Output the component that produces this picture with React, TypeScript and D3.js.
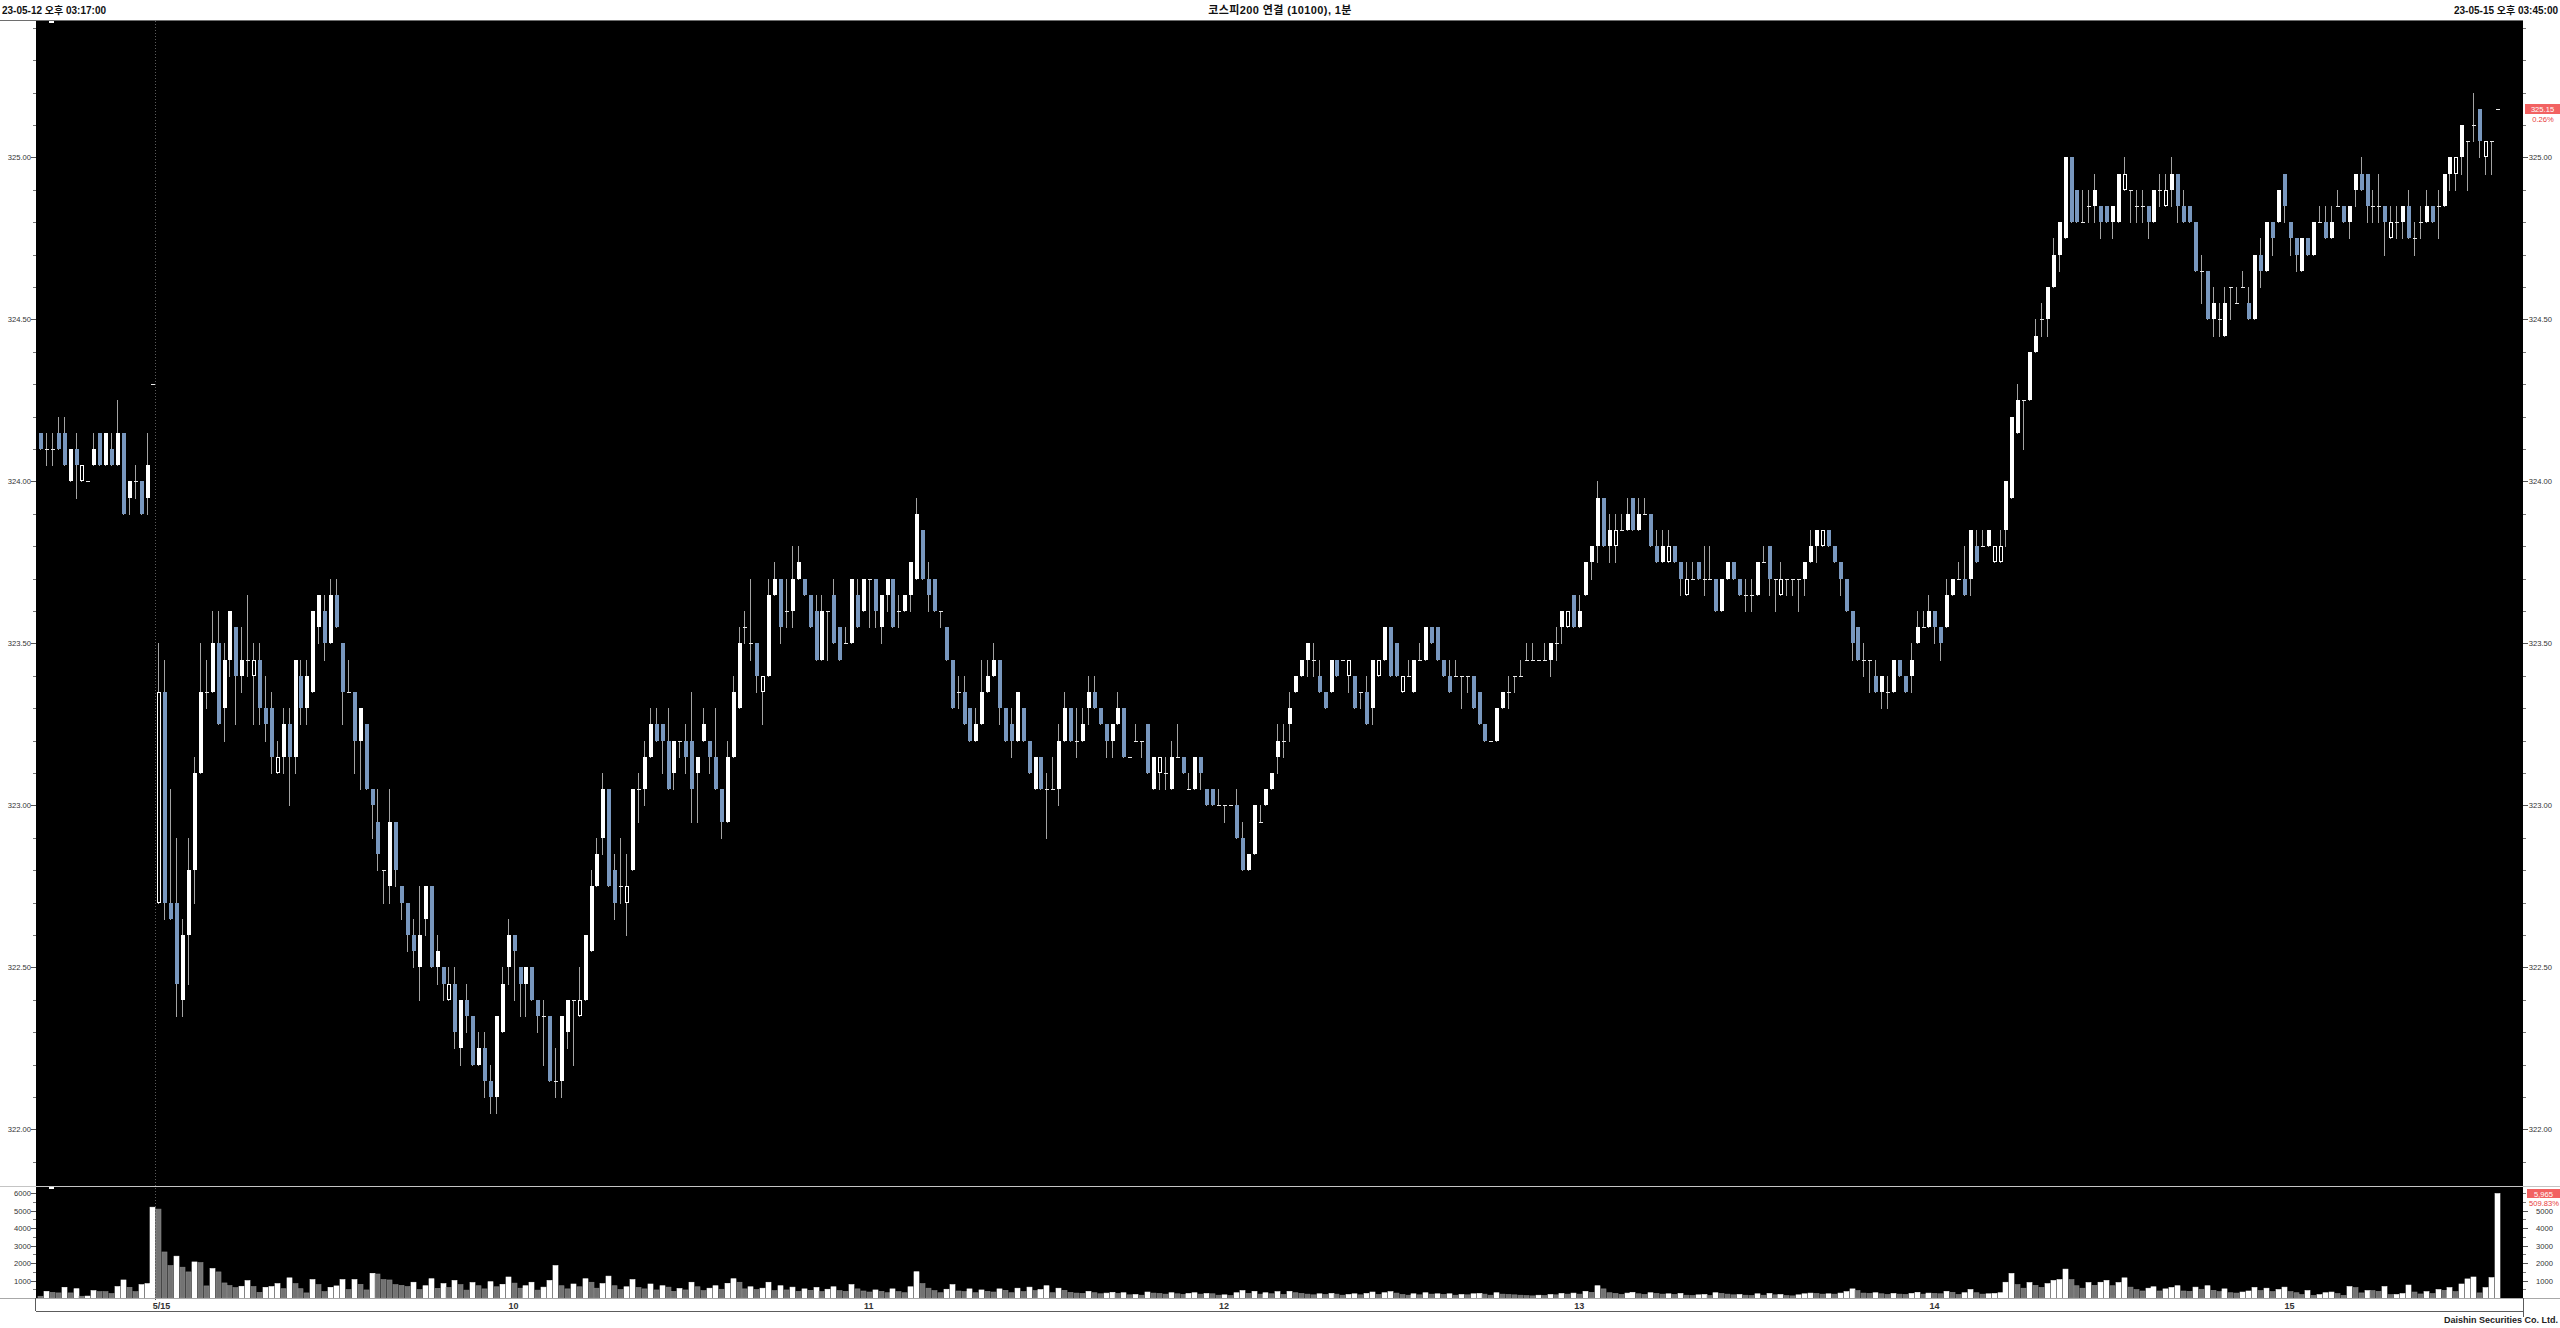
import React from 'react';
import * as d3 from 'd3';

// ---------------- DATA ----------------
// 5/12 tail bars (15:17 .. 15:35, then 15:45 closing auction) : [open, high, low, close]
const may12Bars: number[][] = [
  [324.15, 324.15, 324.10, 324.10], [324.10, 324.15, 324.05, 324.10], [324.10, 324.15, 324.05, 324.10],
  [324.15, 324.20, 324.10, 324.10], [324.15, 324.20, 324.05, 324.05], [324.00, 324.10, 324.00, 324.10],
  [324.10, 324.15, 323.95, 324.05], [324.00, 324.05, 324.00, 324.05], [324.00, 324.00, 324.00, 324.00],
  [324.05, 324.15, 324.05, 324.10], [324.15, 324.15, 324.05, 324.05], [324.05, 324.15, 324.05, 324.15],
  [324.10, 324.15, 324.05, 324.05], [324.05, 324.25, 324.05, 324.15], [324.15, 324.15, 323.90, 323.90],
  [323.95, 324.00, 323.90, 324.00], [324.00, 324.05, 323.95, 324.00], [324.00, 324.00, 323.90, 323.90],
  [323.95, 324.15, 323.90, 324.05], [324.30, 324.30, 324.30, 324.30],
];
const may12Volume: number[] = [100, 380, 320, 290, 610, 290, 530, 100, 110, 420, 360, 360, 250, 650, 1030, 610, 360, 760, 820, 5190];

// 5/15 bars (09:00 .. 15:34, then 15:45 closing auction) : [open, high, low, close]
const may15Bars: number[][] = [
  [322.70,323.50,322.70,323.35],[323.35,323.45,322.65,322.70],[322.70,323.05,322.65,322.65],[322.70,322.90,322.35,322.45],[322.40,322.65,322.35,322.60],
  [322.60,322.90,322.45,322.80],[322.80,323.15,322.70,323.10],[323.10,323.50,323.10,323.35],[323.35,323.45,323.30,323.35],[323.35,323.60,323.35,323.50],
  [323.50,323.60,323.25,323.25],[323.30,323.50,323.20,323.45],[323.45,323.60,323.40,323.60],[323.55,323.55,323.25,323.40],[323.40,323.55,323.35,323.45],
  [323.45,323.65,323.40,323.45],[323.40,323.50,323.25,323.45],[323.45,323.50,323.25,323.30],[323.30,323.40,323.20,323.25],[323.30,323.35,323.10,323.15],
  [323.10,323.20,323.10,323.15],[323.15,323.30,323.10,323.25],[323.25,323.30,323.00,323.15],[323.15,323.45,323.10,323.45],[323.40,323.45,323.25,323.30],
  [323.30,323.45,323.25,323.40],[323.35,323.60,323.35,323.60],[323.55,323.65,323.50,323.65],[323.60,323.65,323.45,323.50],[323.50,323.70,323.50,323.65],
  [323.65,323.70,323.55,323.55],[323.50,323.50,323.25,323.35],[323.35,323.45,323.35,323.35],[323.35,323.35,323.10,323.20],[323.20,323.30,323.05,323.30],
  [323.25,323.25,323.05,323.05],[323.05,323.05,322.90,323.00],[322.95,323.05,322.80,322.85],[322.80,322.80,322.70,322.80],[322.75,323.05,322.70,322.95],
  [322.95,322.95,322.75,322.80],[322.75,322.75,322.65,322.70],[322.70,322.70,322.55,322.60],[322.60,322.65,322.50,322.55],[322.50,322.75,322.40,322.60],
  [322.65,322.75,322.60,322.75],[322.75,322.75,322.50,322.50],[322.50,322.60,322.45,322.55],[322.50,322.50,322.40,322.45],[322.40,322.50,322.40,322.45],
  [322.45,322.50,322.25,322.30],[322.25,322.40,322.20,322.40],[322.40,322.45,322.30,322.35],[322.35,322.35,322.20,322.20],[322.20,322.30,322.20,322.25],
  [322.25,322.30,322.10,322.15],[322.15,322.20,322.05,322.10],[322.10,322.35,322.05,322.35],[322.30,322.50,322.30,322.45],[322.50,322.65,322.45,322.60],
  [322.60,322.60,322.40,322.55],[322.50,322.50,322.35,322.45],[322.45,322.50,322.35,322.50],[322.50,322.50,322.40,322.40],[322.40,322.40,322.30,322.35],
  [322.35,322.40,322.20,322.35],[322.35,322.35,322.15,322.15],[322.15,322.25,322.10,322.15],[322.15,322.35,322.10,322.35],[322.30,322.40,322.25,322.40],
  [322.40,322.40,322.20,322.40],[322.35,322.50,322.35,322.40],[322.40,322.60,322.40,322.60],[322.55,322.80,322.55,322.75],[322.75,322.90,322.75,322.85],
  [322.90,323.10,322.85,323.05],[323.05,323.05,322.75,322.75],[322.80,322.85,322.65,322.70],[322.75,322.90,322.70,322.75],[322.70,322.85,322.60,322.75],
  [322.80,323.05,322.80,323.05],[323.05,323.10,322.95,323.05],[323.05,323.20,323.00,323.15],[323.15,323.30,323.15,323.25],[323.25,323.30,323.20,323.20],
  [323.25,323.25,323.10,323.20],[323.20,323.30,323.05,323.05],[323.10,323.20,323.05,323.20],[323.20,323.20,323.15,323.20],[323.20,323.25,323.10,323.15],
  [323.20,323.35,322.95,323.05],[323.10,323.15,322.95,323.15],[323.20,323.30,323.20,323.25],[323.20,323.20,323.10,323.15],[323.15,323.30,323.05,323.05],
  [323.05,323.05,322.90,322.95],[322.95,323.20,322.95,323.15],[323.15,323.40,323.15,323.35],[323.30,323.55,323.30,323.50],[323.55,323.60,323.50,323.55],
  [323.50,323.70,323.45,323.50],[323.50,323.50,323.35,323.40],[323.35,323.40,323.25,323.40],[323.40,323.70,323.40,323.65],[323.65,323.75,323.65,323.70],
  [323.70,323.70,323.50,323.55],[323.60,323.70,323.55,323.60],[323.60,323.80,323.55,323.70],[323.70,323.80,323.70,323.75],[323.70,323.70,323.65,323.65],
  [323.65,323.65,323.55,323.55],[323.60,323.65,323.45,323.45],[323.45,323.65,323.45,323.60],[323.60,323.60,323.45,323.60],[323.65,323.70,323.50,323.50],
  [323.55,323.55,323.45,323.45],[323.50,323.55,323.50,323.50],[323.50,323.70,323.50,323.70],[323.65,323.70,323.55,323.55],[323.60,323.70,323.60,323.70],
  [323.70,323.70,323.55,323.70],[323.70,323.70,323.55,323.60],[323.55,323.65,323.50,323.65],[323.65,323.70,323.60,323.70],[323.70,323.70,323.55,323.55],
  [323.60,323.65,323.55,323.60],[323.60,323.65,323.60,323.65],[323.65,323.75,323.60,323.75],[323.70,323.95,323.70,323.90],[323.85,323.85,323.70,323.70],
  [323.70,323.75,323.60,323.65],[323.70,323.70,323.60,323.60],[323.60,323.60,323.55,323.60],[323.55,323.55,323.45,323.45],[323.45,323.45,323.30,323.30],
  [323.35,323.40,323.30,323.35],[323.35,323.40,323.25,323.25],[323.30,323.30,323.20,323.20],[323.20,323.30,323.20,323.25],[323.25,323.45,323.25,323.35],
  [323.35,323.45,323.35,323.40],[323.40,323.50,323.40,323.45],[323.45,323.45,323.25,323.30],[323.30,323.30,323.20,323.20],[323.25,323.30,323.15,323.20],
  [323.20,323.35,323.20,323.35],[323.30,323.30,323.20,323.20],[323.20,323.20,323.10,323.10],[323.05,323.15,323.05,323.15],[323.15,323.15,323.05,323.05],
  [323.05,323.10,322.90,323.05],[323.05,323.15,323.05,323.05],[323.05,323.25,323.00,323.20],[323.20,323.35,323.20,323.30],[323.30,323.30,323.20,323.20],
  [323.20,323.30,323.15,323.20],[323.20,323.30,323.20,323.25],[323.30,323.40,323.25,323.35],[323.35,323.40,323.30,323.30],[323.30,323.30,323.25,323.25],
  [323.25,323.25,323.15,323.20],[323.20,323.25,323.15,323.25],[323.25,323.35,323.25,323.30],[323.30,323.30,323.15,323.15],[323.15,323.15,323.15,323.15],
  [323.20,323.25,323.20,323.20],[323.20,323.20,323.15,323.20],[323.25,323.25,323.10,323.10],[323.05,323.15,323.05,323.15],[323.10,323.15,323.05,323.15],
  [323.10,323.15,323.05,323.10],[323.05,323.20,323.05,323.15],[323.15,323.25,323.15,323.15],[323.15,323.15,323.10,323.10],[323.05,323.10,323.05,323.05],
  [323.05,323.15,323.05,323.15],[323.15,323.15,323.05,323.10],[323.05,323.05,323.00,323.00],[323.05,323.05,323.00,323.00],[323.00,323.05,323.00,323.00],
  [323.00,323.00,322.95,323.00],[323.00,323.00,323.00,323.00],[323.00,323.05,322.90,322.90],[322.90,322.95,322.80,322.80],[322.80,322.85,322.80,322.85],
  [322.85,323.00,322.85,323.00],[322.95,323.00,322.95,322.95],[323.00,323.05,323.00,323.05],[323.05,323.10,323.05,323.10],[323.15,323.25,323.10,323.20],
  [323.20,323.25,323.15,323.20],[323.25,323.35,323.20,323.30],[323.35,323.40,323.35,323.40],[323.40,323.45,323.40,323.45],[323.45,323.50,323.40,323.50],
  [323.45,323.50,323.40,323.45],[323.40,323.45,323.35,323.35],[323.35,323.35,323.30,323.30],[323.35,323.45,323.35,323.45],[323.45,323.45,323.40,323.40],
  [323.45,323.45,323.45,323.45],[323.40,323.45,323.35,323.45],[323.40,323.40,323.30,323.30],[323.35,323.35,323.30,323.35],[323.35,323.40,323.25,323.25],
  [323.30,323.45,323.25,323.45],[323.40,323.45,323.40,323.45],[323.45,323.55,323.45,323.55],[323.55,323.55,323.40,323.40],[323.50,323.50,323.40,323.40],
  [323.35,323.40,323.35,323.40],[323.40,323.45,323.40,323.40],[323.35,323.45,323.35,323.45],[323.45,323.50,323.45,323.45],[323.45,323.55,323.45,323.55],
  [323.55,323.55,323.50,323.50],[323.55,323.55,323.45,323.45],[323.45,323.45,323.40,323.40],[323.40,323.45,323.35,323.35],[323.40,323.45,323.40,323.40],
  [323.40,323.40,323.30,323.40],[323.40,323.40,323.35,323.40],[323.40,323.40,323.30,323.30],[323.35,323.35,323.25,323.25],[323.25,323.25,323.20,323.20],
  [323.20,323.20,323.20,323.20],[323.20,323.30,323.20,323.30],[323.30,323.35,323.30,323.35],[323.35,323.40,323.30,323.35],[323.40,323.40,323.35,323.40],
  [323.40,323.45,323.40,323.40],[323.45,323.50,323.45,323.45],[323.45,323.50,323.45,323.45],[323.45,323.45,323.45,323.45],[323.45,323.50,323.45,323.45],
  [323.45,323.50,323.40,323.50],[323.50,323.55,323.45,323.50],[323.55,323.60,323.50,323.60],[323.55,323.60,323.55,323.60],[323.65,323.65,323.55,323.55],
  [323.55,323.65,323.55,323.60],[323.65,323.75,323.65,323.75],[323.75,323.80,323.70,323.80],[323.80,324.00,323.75,323.95],[323.95,323.95,323.80,323.80],
  [323.80,323.90,323.75,323.85],[323.80,323.90,323.75,323.85],[323.85,323.90,323.85,323.85],[323.85,323.95,323.85,323.90],[323.95,323.95,323.85,323.85],
  [323.85,323.95,323.85,323.90],[323.90,323.95,323.90,323.90],[323.90,323.90,323.80,323.80],[323.80,323.85,323.75,323.75],[323.75,323.85,323.75,323.80],
  [323.75,323.85,323.75,323.80],[323.80,323.80,323.75,323.75],[323.75,323.75,323.65,323.70],[323.65,323.75,323.65,323.70],[323.70,323.75,323.70,323.70],
  [323.75,323.75,323.70,323.70],[323.70,323.80,323.65,323.70],[323.70,323.80,323.70,323.70],[323.70,323.70,323.60,323.60],[323.60,323.70,323.60,323.70],
  [323.70,323.75,323.70,323.75],[323.75,323.75,323.70,323.70],[323.70,323.70,323.65,323.65],[323.65,323.70,323.60,323.65],[323.65,323.70,323.60,323.65],
  [323.65,323.75,323.65,323.75],[323.75,323.80,323.75,323.75],[323.80,323.80,323.65,323.70],[323.70,323.70,323.60,323.70],[323.65,323.75,323.65,323.70],
  [323.70,323.70,323.65,323.70],[323.70,323.70,323.65,323.70],[323.70,323.70,323.60,323.70],[323.70,323.75,323.65,323.75],[323.75,323.85,323.75,323.80],
  [323.80,323.85,323.75,323.85],[323.80,323.85,323.80,323.85],[323.85,323.85,323.80,323.80],[323.80,323.80,323.75,323.75],[323.75,323.75,323.65,323.70],
  [323.70,323.70,323.60,323.60],[323.60,323.60,323.45,323.50],[323.55,323.55,323.45,323.45],[323.45,323.50,323.40,323.45],[323.45,323.45,323.35,323.45],
  [323.40,323.45,323.35,323.35],[323.35,323.40,323.30,323.40],[323.35,323.40,323.30,323.35],[323.35,323.45,323.35,323.45],[323.45,323.45,323.40,323.40],
  [323.40,323.40,323.35,323.35],[323.40,323.50,323.35,323.45],[323.50,323.60,323.50,323.55],[323.55,323.60,323.55,323.55],[323.55,323.65,323.55,323.60],
  [323.60,323.60,323.50,323.55],[323.55,323.55,323.45,323.50],[323.55,323.70,323.55,323.65],[323.65,323.70,323.65,323.70],[323.70,323.75,323.70,323.70],
  [323.70,323.80,323.65,323.65],[323.70,323.85,323.65,323.85],[323.80,323.85,323.75,323.75],[323.80,323.85,323.80,323.80],[323.80,323.85,323.80,323.85],
  [323.75,323.80,323.75,323.80],[323.75,323.85,323.75,323.80],[323.85,324.00,323.80,324.00],[323.95,324.20,323.95,324.20],[324.15,324.30,324.15,324.25],
  [324.25,324.25,324.10,324.25],[324.25,324.40,324.25,324.40],[324.40,324.50,324.40,324.45],[324.50,324.55,324.45,324.50],[324.50,324.60,324.45,324.60],
  [324.60,324.75,324.60,324.70],[324.70,324.80,324.65,324.80],[324.75,325.00,324.75,325.00],[325.00,325.00,324.80,324.80],[324.90,324.90,324.80,324.80],
  [324.80,324.90,324.80,324.80],[324.85,324.90,324.80,324.85],[324.85,324.95,324.80,324.90],[324.85,324.85,324.75,324.80],[324.85,324.85,324.80,324.80],
  [324.80,324.85,324.75,324.85],[324.80,324.95,324.80,324.95],[324.90,325.00,324.90,324.95],[324.90,324.90,324.80,324.90],[324.85,324.90,324.80,324.85],
  [324.85,324.90,324.80,324.85],[324.85,324.85,324.75,324.80],[324.80,324.90,324.80,324.90],[324.90,324.95,324.85,324.90],[324.85,324.95,324.85,324.90],
  [324.90,325.00,324.85,324.95],[324.95,324.95,324.80,324.85],[324.85,324.90,324.80,324.80],[324.85,324.85,324.80,324.80],[324.80,324.80,324.65,324.65],
  [324.65,324.70,324.55,324.65],[324.65,324.65,324.50,324.50],[324.50,324.60,324.45,324.55],[324.50,324.55,324.45,324.50],[324.45,324.60,324.45,324.55],
  [324.60,324.60,324.50,324.60],[324.55,324.60,324.55,324.55],[324.60,324.65,324.60,324.60],[324.55,324.60,324.50,324.50],[324.50,324.70,324.50,324.70],
  [324.70,324.75,324.60,324.65],[324.65,324.80,324.65,324.80],[324.80,324.80,324.70,324.75],[324.80,324.90,324.80,324.90],[324.95,324.95,324.80,324.85],
  [324.80,324.80,324.70,324.75],[324.75,324.75,324.65,324.70],[324.65,324.75,324.65,324.75],[324.75,324.75,324.70,324.70],[324.70,324.80,324.70,324.80],
  [324.80,324.85,324.80,324.80],[324.80,324.85,324.75,324.75],[324.75,324.85,324.75,324.80],[324.85,324.90,324.85,324.85],[324.85,324.85,324.80,324.80],
  [324.80,324.85,324.75,324.85],[324.90,324.95,324.85,324.95],[324.95,325.00,324.90,324.90],[324.95,324.95,324.80,324.85],[324.85,324.90,324.80,324.85],
  [324.85,324.95,324.80,324.85],[324.85,324.85,324.70,324.80],[324.75,324.85,324.75,324.80],[324.80,324.85,324.75,324.80],[324.80,324.85,324.75,324.85],
  [324.85,324.90,324.75,324.75],[324.75,324.80,324.70,324.75],[324.80,324.85,324.75,324.80],[324.80,324.90,324.80,324.85],[324.85,324.85,324.80,324.80],
  [324.85,324.90,324.75,324.85],[324.85,324.95,324.85,324.95],[324.95,325.00,324.90,325.00],[324.95,325.00,324.90,325.00],[325.00,325.10,324.95,325.10],
  [325.05,325.05,324.90,325.05],[325.10,325.20,325.05,325.10],[325.15,325.15,325.00,325.05],[325.00,325.05,324.95,325.05],[325.05,325.05,324.95,325.05],
  [325.15,325.15,325.15,325.15],
];

const may15Volume: number[] = [
  5080, 2630, 1850, 2390, 1760, 1490, 2060, 2020, 690, 1680, 1490, 860, 710, 590, 670, 990, 650, 320, 610, 650,
  820, 530, 1150, 820, 530, 290, 1050, 760, 360, 610, 690, 1050, 480, 1050, 780, 460, 1410, 1370, 1050, 1030,
  760, 720, 650, 900, 480, 700, 1100, 550, 820, 600, 1000, 760, 450, 880, 700, 520, 930, 640, 780, 1200,
  850, 560, 700, 900, 450, 620, 1000, 1850, 700, 520, 800, 640, 1100, 900, 560, 820, 1250, 700, 480, 640,
  1050, 600, 520, 800, 460, 700, 620, 380, 540, 460, 900, 640, 420, 560, 700, 500, 840, 1100, 900, 520,
  640, 480, 560, 900, 420, 700, 460, 620, 380, 520, 440, 600, 360, 500, 640, 420, 380, 760, 520, 400,
  340, 460, 380, 300, 520, 360, 300, 640, 1500, 820, 560, 420, 300, 500, 760, 400, 360, 520, 300, 460,
  380, 340, 520, 440, 300, 560, 360, 620, 420, 480, 700, 300, 560, 440, 320, 280, 260, 380, 300, 240,
  280, 320, 260, 300, 180, 200, 160, 340, 280, 260, 220, 300, 240, 200, 260, 300, 220, 260, 240, 160,
  180, 140, 300, 420, 260, 380, 220, 300, 240, 360, 200, 380, 300, 260, 220, 180, 240, 200, 260, 220,
  160, 200, 240, 180, 260, 340, 200, 300, 360, 280, 200, 160, 240, 180, 300, 220, 240, 200, 240, 160,
  200, 180, 240, 260, 220, 160, 300, 220, 200, 180, 160, 140, 120, 160, 140, 200, 180, 260, 220, 280,
  220, 380, 320, 700, 520, 300, 260, 200, 280, 320, 240, 200, 300, 260, 220, 240, 200, 260, 160, 140,
  180, 200, 140, 300, 260, 220, 180, 200, 160, 140, 240, 160, 260, 180, 200, 140, 120, 180, 240, 280,
  260, 220, 240, 220, 280, 360, 520, 420, 280, 260, 300, 240, 200, 260, 220, 200, 260, 320, 220, 280,
  260, 240, 380, 320, 200, 300, 480, 300, 220, 240, 260, 300, 900, 1400, 760, 560, 880, 720, 600, 820,
  1000, 1050, 1650, 1050, 700, 560, 880, 720, 900, 1000, 700, 880, 1150, 620, 480, 400, 560, 640, 400, 520,
  600, 700, 400, 380, 620, 500, 700, 440, 360, 520, 300, 280, 340, 400, 600, 420, 560, 360, 480, 620,
  360, 300, 190, 420, 150, 190, 300, 340, 250, 150, 650, 590, 290, 420, 420, 380, 650, 190, 200, 250,
  740, 340, 230, 360, 250, 480, 440, 590, 360, 800, 1090, 1200, 290, 590, 1160, 5965,
];

const priceLabels: number[] = [322.0, 322.5, 323.0, 323.5, 324.0, 324.5, 325.0];
const volumeLabels: number[] = [1000, 2000, 3000, 4000, 5000, 6000];
const hourLabels: string[] = ['5/15', '10', '11', '12', '13', '14', '15'];
const hourBarOfDay: number[] = [0, 60, 120, 180, 240, 300, 360];
const headerLeft = '23-05-12 오후 03:17:00';
const headerTitle = '코스피200 연결 (10100), 1분';
const headerRight = '23-05-15 오후 03:45:00';
const footerText = 'Daishin Securities Co. Ltd.';
const lastPriceText = '325.15';
const lastChangeText = '0.26%';
const lastVolumeText = '5,965';
const lastVolumeRatioText = '509.83%';

// ---------------- LAYOUT ----------------
const W = 2560;
const H = 1328;
const PL = 36;
const PR = 2523;
const PRICE_TOP = 21;
const PRICE_BOTTOM = 1186;
const VOL_BOTTOM = 1298;
const AXIS_BOTTOM = 1311;

const UP = '#ffffff';
const DOWN = '#7897be';
const WICK = '#a3a3a3';
const VOL_DOWN = '#737373';
const FONT = '"Liberation Sans", "Noto Sans CJK KR", Arial, sans-serif';

export default function App() {
  const bars = [...may12Bars, ...may15Bars].map(([o, h, l, c], i) => ({
    i,
    o,
    c,
    h: Math.max(h, o, c),
    l: Math.min(l, o, c),
  }));
  const volumes = [...may12Volume, ...may15Volume];
  const n = bars.length;
  const dayOffset = may12Bars.length;

  const x = d3.scaleLinear().domain([0, n - 1]).range([40, 40 + (n - 1) * 5.92]);
  const y = d3.scaleLinear().domain([325, 322]).range([157.3, 1129.3]);
  const yv = d3.scaleLinear().domain([0, 6000]).range([VOL_BOTTOM, 1193]);

  const minorPrice = d3.range(3219, 3255).map((v) => v / 10).filter((p) => y(p) > PRICE_TOP + 2 && y(p) < PRICE_BOTTOM - 2);
  const minorVol = d3.range(500, 6001, 500);

  const sepX = Math.round((x(dayOffset - 1) + x(dayOffset)) / 2) + 0.5;
  const bw = 4;

  const candleEls: React.ReactNode[] = [];
  bars.forEach((b, idx) => {
    const cx = Math.round(x(b.i));
    const prevClose = idx > 0 ? bars[idx - 1].c : b.c;
    const yh = Math.round(y(b.h));
    const yl = Math.round(y(b.l));
    if (yl > yh) {
      candleEls.push(<line key={'w' + idx} x1={cx + 0.5} x2={cx + 0.5} y1={yh} y2={yl + 1} stroke={WICK} strokeWidth={1} />);
    }
    if (b.c === b.o) {
      const yc = Math.round(y(b.c));
      candleEls.push(<rect key={'d' + idx} x={cx - 1.5} y={yc} width={bw} height={1} fill="#e8e8e8" />);
    } else {
      const top = Math.round(y(Math.max(b.o, b.c)));
      const bot = Math.round(y(Math.min(b.o, b.c)));
      const up = b.c > b.o;
      const hollow = up && b.c <= prevClose;
      if (hollow) {
        candleEls.push(
          <rect key={'b' + idx} x={cx - 1} y={top + 0.5} width={bw - 1} height={Math.max(bot - top - 1, 1)} fill="#000" stroke={UP} strokeWidth={1} />
        );
      } else {
        candleEls.push(
          <rect key={'b' + idx} x={cx - 1.5} y={top} width={bw} height={Math.max(bot - top, 1)} fill={up ? UP : DOWN} />
        );
      }
    }
  });

  const volEls = volumes.map((v, idx) => {
    const cx = x(idx);
    const prev = idx > 0 ? volumes[idx - 1] : v;
    const up = v > prev;
    const yt = yv(v);
    return (
      <rect key={'v' + idx} x={Math.round(cx) - 2} y={yt} width={5} height={VOL_BOTTOM - yt} fill={up ? '#ffffff' : VOL_DOWN} stroke={up ? '#ffffff' : '#8a8a8a'} strokeWidth={0.6} />
    );
  });

  return (
    <div style={{ position: 'fixed', left: 0, top: 0, width: W, height: H, background: '#fff' }}>
      <svg width={W} height={H} style={{ display: 'block' }} shapeRendering="crispEdges">
        <rect x={0} y={0} width={W} height={H} fill="#ffffff" />
        {/* header */}
        <text x={2} y={13.5} fontFamily={FONT} fontWeight="bold" fontSize={10} fill="#111">{headerLeft}</text>
        <text x={1280} y={13.5} fontFamily={FONT} fontWeight="bold" fontSize={11} fill="#111" textAnchor="middle" letterSpacing={0.4}>{headerTitle}</text>
        <text x={2558} y={13.5} fontFamily={FONT} fontWeight="bold" fontSize={10} fill="#111" textAnchor="end">{headerRight}</text>
        <line x1={0} x2={PR} y1={20.5} y2={20.5} stroke="#6e6e6e" strokeWidth={1} />

        {/* plot backgrounds */}
        <rect x={PL} y={PRICE_TOP} width={PR - PL} height={VOL_BOTTOM - PRICE_TOP} fill="#000" />

        {/* day separator */}
        <line x1={sepX} x2={sepX} y1={PRICE_TOP} y2={VOL_BOTTOM + 3} stroke="#5a5a5a" strokeWidth={1} strokeDasharray="1 2" />

        {/* candles */}
        <g>{candleEls}</g>

        {/* volume */}
        <g shapeRendering="auto">{volEls}</g>

        {/* panel lines */}
        <line x1={0} x2={W} y1={PRICE_BOTTOM + 0.5} y2={PRICE_BOTTOM + 0.5} stroke="#c4c4c4" strokeWidth={1} />
        <line x1={0} x2={W} y1={VOL_BOTTOM + 0.5} y2={VOL_BOTTOM + 0.5} stroke="#a8a8a8" strokeWidth={1} />
        <line x1={PL - 0.5} x2={PR + 0.5} y1={AXIS_BOTTOM + 0.5} y2={AXIS_BOTTOM + 0.5} stroke="#5c5c5c" strokeWidth={1} />
        <line x1={PL - 0.5} x2={PL - 0.5} y1={VOL_BOTTOM} y2={AXIS_BOTTOM} stroke="#5c5c5c" strokeWidth={1} />
        <line x1={PR + 0.5} x2={PR + 0.5} y1={VOL_BOTTOM} y2={AXIS_BOTTOM + 6} stroke="#5c5c5c" strokeWidth={1} />

        {/* small markers */}
        <rect x={49} y={21} width={5} height={1.5} fill="#fff" />
        <rect x={49} y={PRICE_BOTTOM + 1} width={5} height={1.5} fill="#fff" />

        {/* price axes */}
        {minorPrice.map((p) => (
          <g key={'mp' + p}>
            <line x1={PR} x2={PR + 3} y1={Math.round(y(p)) + 0.5} y2={Math.round(y(p)) + 0.5} stroke="#777" />
            <line x1={PL - 3} x2={PL} y1={Math.round(y(p)) + 0.5} y2={Math.round(y(p)) + 0.5} stroke="#777" />
          </g>
        ))}
        {priceLabels.map((p) => (
          <g key={'pl' + p}>
            <line x1={PR} x2={PR + 5} y1={Math.round(y(p)) + 0.5} y2={Math.round(y(p)) + 0.5} stroke="#555" />
            <line x1={PL - 5} x2={PL} y1={Math.round(y(p)) + 0.5} y2={Math.round(y(p)) + 0.5} stroke="#555" />
            <text x={2552} y={y(p) + 3} fontFamily={FONT} fontSize={7.6} fill="#333" textAnchor="end">{d3.format('.2f')(p)}</text>
            <text x={31} y={y(p) + 3} fontFamily={FONT} fontSize={7.6} fill="#333" textAnchor="end">{d3.format('.2f')(p)}</text>
          </g>
        ))}

        {/* volume axes */}
        {minorVol.map((v) => (
          <g key={'mv' + v}>
            <line x1={PR} x2={PR + 3} y1={Math.round(yv(v)) + 0.5} y2={Math.round(yv(v)) + 0.5} stroke="#777" />
            <line x1={PL - 3} x2={PL} y1={Math.round(yv(v)) + 0.5} y2={Math.round(yv(v)) + 0.5} stroke="#777" />
          </g>
        ))}
        {volumeLabels.map((v) => (
          <g key={'vl' + v}>
            <line x1={PL - 5} x2={PL} y1={Math.round(yv(v)) + 0.5} y2={Math.round(yv(v)) + 0.5} stroke="#555" />
            <text x={31} y={yv(v) + 3} fontFamily={FONT} fontSize={7.6} fill="#333" textAnchor="end">{v}</text>
            {v < 6000 && (
              <>
                <line x1={PR} x2={PR + 5} y1={Math.round(yv(v)) + 0.5} y2={Math.round(yv(v)) + 0.5} stroke="#555" />
                <text x={2553} y={yv(v) + 3} fontFamily={FONT} fontSize={7.6} fill="#333" textAnchor="end">{v}</text>
              </>
            )}
          </g>
        ))}

        {/* last value badges */}
        <rect x={2525} y={104} width={35} height={10} fill="#f26262" />
        <text x={2542.5} y={112} fontFamily={FONT} fontSize={7.6} fill="#fff" textAnchor="middle" shapeRendering="auto">{lastPriceText}</text>
        <text x={2543} y={121.5} fontFamily={FONT} fontSize={7.6} fill="#e83c3c" textAnchor="middle">{lastChangeText}</text>
        <rect x={2527} y={1189} width={33} height={9} fill="#f26262" />
        <text x={2543.5} y={1196.5} fontFamily={FONT} fontSize={7.6} fill="#fff" textAnchor="middle">{lastVolumeText}</text>
        <text x={2544} y={1206} fontFamily={FONT} fontSize={7.6} fill="#e83c3c" textAnchor="middle">{lastVolumeRatioText}</text>

        {/* x axis labels */}
        {hourLabels.map((lab, k) => {
          const xi = x(dayOffset + hourBarOfDay[k]);
          return (
            <text key={'h' + lab} x={k === 0 ? sepX + 6 : xi} y={1309} fontFamily={FONT} fontWeight="bold" fontSize={9} fill="#333" textAnchor="middle">
              {lab}
            </text>
          );
        })}

        {/* footer */}
        <text x={2558} y={1323} fontFamily={FONT} fontWeight="bold" fontSize={9} fill="#222" textAnchor="end">{footerText}</text>
      </svg>
    </div>
  );
}
